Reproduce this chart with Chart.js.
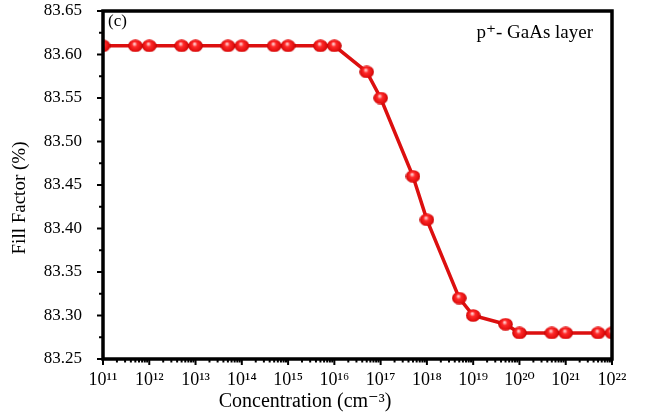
<!DOCTYPE html>
<html>
<head>
<meta charset="utf-8">
<script src="https://cdn.jsdelivr.net/npm/chart.js@4.4.1/dist/chart.umd.min.js"></script>
<style>
  html, body { margin: 0; padding: 0; background: #fff; }
  #wrap { width: 645px; height: 416px; }
</style>
</head>
<body>
<div id="wrap"><canvas id="grafico" width="645" height="416"></canvas></div>
<script>
// dados
const concentracoes = [1e11, 5e11, 1e12, 5e12, 1e13, 5e13, 1e14, 5e14, 1e15, 5e15, 1e16,
  5e16, 1e17, 5e17, 1e18, 5e18, 1e19, 5e19, 1e20, 5e20, 1e21, 5e21, 1e22];
const fillFactor = [83.61, 83.61, 83.61, 83.61, 83.61, 83.61, 83.61, 83.61, 83.61, 83.61, 83.61,
  83.58, 83.55, 83.46, 83.41, 83.32, 83.30, 83.29, 83.28, 83.28, 83.28, 83.28, 83.28];
const expoentes = [11, 12, 13, 14, 15, 16, 17, 18, 19, 20, 21, 22];
const yTicks = [83.25, 83.30, 83.35, 83.40, 83.45, 83.50, 83.55, 83.60, 83.65];

const serif = "'Liberation Serif', 'DejaVu Serif', serif";
const sup = { "0": "\u2070", "1": "\u00B9", "2": "\u00B2", "3": "\u00B3", "4": "\u2074",
  "5": "\u2075", "6": "\u2076", "7": "\u2077", "8": "\u2078", "9": "\u2079" };
const sobrescrito = n => String(n).split("").map(c => sup[c]).join("");

// bolinha vermelha com brilho
const bola = document.createElement("canvas");
bola.width = 15; bola.height = 13;
{
  const c = bola.getContext("2d");
  const g = c.createRadialGradient(6.5, 4.5, 0.5, 7.5, 6.5, 7.5);
  g.addColorStop(0, "#ffd0d0");
  g.addColorStop(0.3, "#ff2a2a");
  g.addColorStop(0.8, "#e00c0c");
  g.addColorStop(1, "#b80000");
  c.fillStyle = g;
  c.beginPath();
  c.ellipse(7.5, 6.5, 7.3, 6.3, 0, 0, Math.PI * 2);
  c.fill();
}

// moldura, marcas dos eixos e textos
const moldura = {
  id: "moldura",
  afterDatasetsDraw(chart) {
    const { ctx, chartArea: a, scales: { x, y } } = chart;
    ctx.save();
    ctx.strokeStyle = "#000";
    ctx.lineWidth = 2;
    // x: décadas e subdivisões
    const xMax = Math.pow(10, expoentes[expoentes.length - 1]);
    for (let e = expoentes[0]; e <= expoentes[expoentes.length - 1]; e++) {
      for (let m = 1; m <= 9; m++) {
        const v = m * Math.pow(10, e);
        if (v > xMax) break;
        const px = x.getPixelForValue(v);
        ctx.beginPath();
        ctx.moveTo(px, a.bottom);
        ctx.lineTo(px, a.bottom + (m === 1 ? 6 : 3.5));
        ctx.stroke();
      }
    }
    // y: principais e secundárias
    for (let i = 0; i < yTicks.length; i++) {
      const py = y.getPixelForValue(yTicks[i]);
      ctx.beginPath();
      ctx.moveTo(a.left, py);
      ctx.lineTo(a.left - 6, py);
      ctx.stroke();
      if (i < yTicks.length - 1) {
        const pm = y.getPixelForValue((yTicks[i] + yTicks[i + 1]) / 2);
        ctx.beginPath();
        ctx.moveTo(a.left, pm);
        ctx.lineTo(a.left - 4, pm);
        ctx.stroke();
      }
    }
    ctx.lineWidth = 3.5;
    ctx.strokeRect(a.left, a.top, a.right - a.left, a.bottom - a.top);

    ctx.fillStyle = "#000";
    ctx.textBaseline = "alphabetic";
    ctx.font = "17px " + serif;
    ctx.textAlign = "left";
    ctx.fillText("(c)", a.left + 5, a.top + 15);
    ctx.font = "19px " + serif;
    ctx.textAlign = "right";
    ctx.fillText("p\u207A- GaAs layer", a.right - 19, a.top + 27);

    // títulos dos eixos
    ctx.textAlign = "center";
    ctx.textBaseline = "middle";
    ctx.font = "20px " + serif;
    ctx.fillText("Concentration (cm\u207B\u00B3)", 305, 402);
    ctx.translate(20, 198);
    ctx.rotate(-Math.PI / 2);
    ctx.font = "19px " + serif;
    ctx.fillText("Fill Factor (%)", 0, 0);
    ctx.restore();
  }
};

new Chart(document.getElementById("grafico"), {
  type: "line",
  data: {
    datasets: [{
      data: concentracoes.map((c, i) => ({ x: c, y: fillFactor[i] })),
      borderColor: "#dc0f0f",
      borderWidth: 3.5,
      pointStyle: bola,
      pointRadius: 7,
      pointHoverRadius: 7,
      tension: 0,
      clip: 0
    }]
  },
  options: {
    responsive: false,
    animation: false,
    events: [],
    layout: { padding: { top: 11, right: 33, left: 0, bottom: 0 } },
    plugins: { legend: { display: false }, tooltip: { enabled: false } },
    scales: {
      x: {
        type: "logarithmic",
        min: 1e11,
        max: 1e22,
        afterBuildTicks: s => { s.ticks = expoentes.map(e => ({ value: Math.pow(10, e) })); },
        afterFit: s => { s.height = 57; s.paddingLeft = 0; s.paddingRight = 0; },
        grid: { display: false },
        border: { display: false },
        ticks: {
          autoSkip: false,
          maxRotation: 0,
          padding: 2,
          color: "#000",
          font: { family: serif, size: 18 },
          callback: v => "10" + sobrescrito(Math.round(Math.log10(v)))
        }
      },
      y: {
        min: 83.25,
        max: 83.65,
        afterBuildTicks: s => { s.ticks = yTicks.map(v => ({ value: v })); },
        afterFit: s => { s.width = 103; s.paddingTop = 0; s.paddingBottom = 0; },
        grid: { display: false },
        border: { display: false },
        ticks: {
          padding: 13,
          color: "#000",
          font: { family: serif, size: 17 },
          callback: v => v.toFixed(2)
        }
      }
    }
  },
  plugins: [moldura]
});
</script>
</body>
</html>
